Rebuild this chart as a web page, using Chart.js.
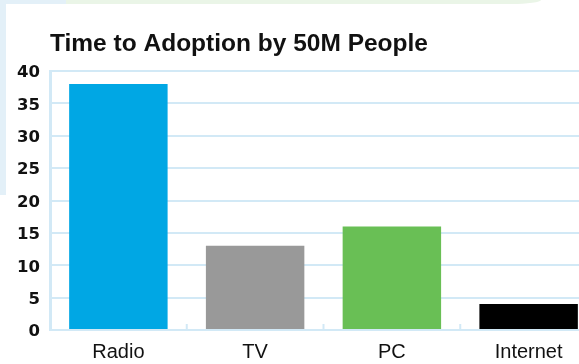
<!DOCTYPE html>
<html>
<head>
<meta charset="utf-8">
<script src="https://cdn.jsdelivr.net/npm/chart.js@4.4.1/dist/chart.umd.min.js"></script>
<style>
  html, body { margin: 0; padding: 0; width: 579px; height: 364px; overflow: hidden; background: #ffffff; }
  #deco-left { position: absolute; left: 0; top: 0; width: 6px; height: 195px; background: #e3f0f8; }
  #deco-top-blue { position: absolute; left: 0; top: 0; width: 66px; height: 4px; background: #e3f0f8; }
  #deco-top-green { position: absolute; left: 66px; top: 0; width: 475px; height: 4px; background: #eaf5e7; border-bottom-right-radius: 30px 4px; }
  #wrap { position: absolute; left: 0; top: 0; width: 610px; height: 364px; }
</style>
</head>
<body>
<div id="deco-left"></div>
<div id="deco-top-blue"></div>
<div id="deco-top-green"></div>
<div id="wrap"><canvas id="c" width="610" height="364"></canvas></div>
<script>
const categories = ["Radio", "TV", "PC", "Internet"];
const years = [38, 13, 16, 4];
const barColors = ["#00a7e4", "#999999", "#69bf55", "#000000"];
const yTicks = [0, 5, 10, 15, 20, 25, 30, 35, 40];
const titleText = "Time to Adoption by 50M People";

const gridColor = "#d2e9f6";

const boundaryTicks = {
  id: "boundaryTicks",
  afterDatasetsDraw(chart) {
    const x = chart.scales.x;
    const y = chart.chartArea.bottom;
    const ctx = chart.ctx;
    ctx.save();
    ctx.strokeStyle = gridColor;
    ctx.lineWidth = 2;
    for (let i = 0; i < categories.length - 1; i++) {
      const px = (x.getPixelForValue(i) + x.getPixelForValue(i + 1)) / 2;
      ctx.beginPath();
      ctx.moveTo(px, y - 6);
      ctx.lineTo(px, y);
      ctx.stroke();
    }
    ctx.restore();
  }
};

new Chart(document.getElementById("c"), {
  type: "bar",
  data: {
    labels: categories,
    datasets: [{
      data: years,
      backgroundColor: barColors,
      borderWidth: 0,
      barPercentage: 0.72,
      categoryPercentage: 1.0
    }]
  },
  options: {
    responsive: false,
    animation: false,
    devicePixelRatio: 1,
    layout: { padding: { left: 0, right: 13, top: 0, bottom: 0 } },
    plugins: {
      legend: { display: false },
      tooltip: { enabled: false },
      title: {
        display: true,
        text: titleText,
        align: "start",
        fullSize: false,
        color: "#111111",
        font: { family: "Liberation Sans, Arial, sans-serif", size: 24.5, weight: "bold", lineHeight: 1.2 },
        padding: { top: 30, bottom: 11.6 }
      }
    },
    scales: {
      x: {
        afterFit(scale) { scale.height = 34; },
        grid: { display: false, drawTicks: false },
        border: { display: true, color: gridColor, width: 2 },
        ticks: {
          color: "#111111",
          padding: 10,
          font: { family: "Liberation Sans, Arial, sans-serif", size: 20, lineHeight: 1.2 }
        }
      },
      y: {
        min: 0,
        max: 40,
        afterFit(scale) { scale.width = 50; },
        afterBuildTicks(scale) { scale.ticks = yTicks.map(v => ({ value: v })); },
        grid: { color: gridColor, lineWidth: 2, drawTicks: false },
        border: { display: true, color: gridColor, width: 3 },
        ticks: {
          color: "#111111",
          padding: 10,
          labelOffset: 2,
          font: { family: "DejaVu Sans, sans-serif", size: 16.5, weight: "bold" }
        }
      }
    }
  },
  plugins: [boundaryTicks]
});
</script>
</body>
</html>
